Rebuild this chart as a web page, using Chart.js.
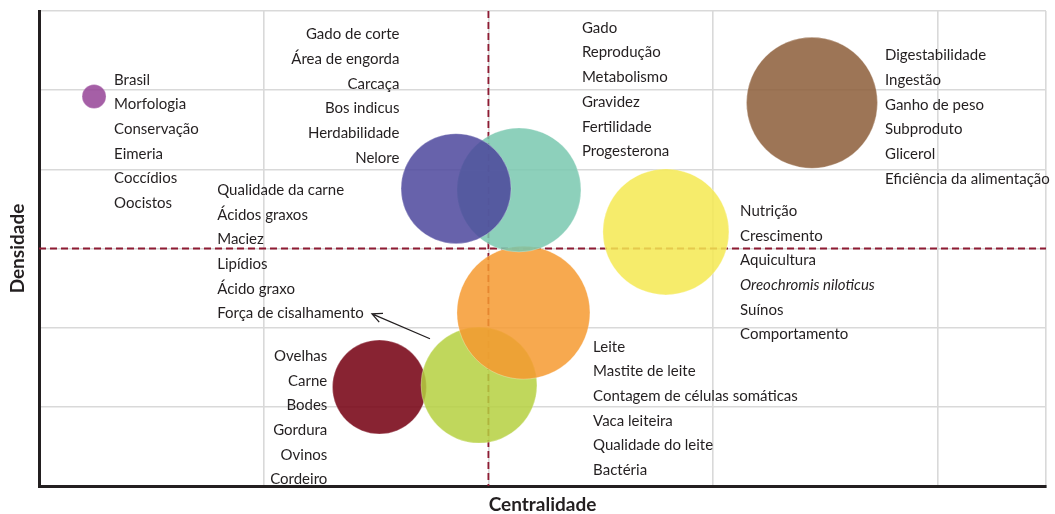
<!DOCTYPE html>
<html lang="pt-BR">
<head>
    <meta charset="UTF-8">
    <title>Mapa temático</title>
    <style>
        body {
            margin: 0;
            background: #ffffff;
        }
        #wrap {
            width: 1055px;
            height: 514px;
        }
    </style>
</head>
<body>
    <div id="wrap"><canvas id="myChart" width="1055" height="514"></canvas></div>

    <script src="https://cdn.jsdelivr.net/npm/chart.js"></script>
    <script>
        // Dados (um tema por bolha)
        const temas = ['Ovinos', 'Carne', 'Leite', 'Reprodução', 'Gado de corte', 'Nutrição', 'Digestabilidade', 'Brasil'];
        const centralidade = [1.515, 1.958, 2.156, 2.136, 1.856, 2.79, 3.44, 0.245];
        const densidade = [1.25, 1.275, 2.19, 3.74, 3.756, 3.21, 4.84, 4.92];
        const tamanho = [47, 58, 66.5, 62, 55, 63, 65.5, 12];
        const cores = [
            'rgba(120, 5, 22, 0.88)',
            'rgba(181, 208, 63, 0.85)',
            'rgba(246, 154, 48, 0.85)',
            'rgba(121, 200, 175, 0.85)',
            'rgba(76, 70, 156, 0.85)',
            'rgba(244, 233, 81, 0.85)',
            'rgba(140, 93, 56, 0.85)',
            'rgba(149, 67, 151, 0.85)'
        ];

        // Linhas de grade e linhas de corte (médias)
        const ticksX = [0, 1, 2, 3, 4, 4.4815];
        const ticksY = [0, 1, 2, 3, 4, 5, 6];
        const corteX = 2;
        const corteY = 3;

        // Palavras-chave de cada grupo
        const palavras = [
            ['Brasil', 'Morfologia', 'Conservação', 'Eimeria', 'Coccídios', 'Oocistos'],
            ['Gado de corte', 'Área de engorda', 'Carcaça', 'Bos indicus', 'Herdabilidade', 'Nelore'],
            ['Gado', 'Reprodução', 'Metabolismo', 'Gravidez', 'Fertilidade', 'Progesterona'],
            ['Digestabilidade', 'Ingestão', 'Ganho de peso', 'Subproduto', 'Glicerol', 'Eficiência da alimentação'],
            ['Qualidade da carne', 'Ácidos graxos', 'Maciez', 'Lipídios', 'Ácido graxo', 'Força de cisalhamento'],
            ['Nutrição', 'Crescimento', 'Aquicultura', 'Oreochromis niloticus', 'Suínos', 'Comportamento'],
            ['Ovelhas', 'Carne', 'Bodes', 'Gordura', 'Ovinos', 'Cordeiro'],
            ['Leite', 'Mastite de leite', 'Contagem de células somáticas', 'Vaca leiteira', 'Qualidade do leite', 'Bactéria']
        ];

        // Onde cada bloco de texto começa (em unidades dos eixos)
        const blocos = [
            { x: 0.334, y: 5.150, align: 'left' },
            { x: 1.604, y: 5.722, align: 'right' },
            { x: 2.416, y: 5.805, align: 'left' },
            { x: 3.765, y: 5.457, align: 'left' },
            { x: 0.793, y: 3.756, align: 'left' },
            { x: 3.120, y: 3.491, align: 'left' },
            { x: 1.283, y: 1.660, align: 'right' },
            { x: 2.466, y: 1.778, align: 'left' }
        ];
        const entreLinhas = 24.7;
        const seta = { de: [1.740, 1.860], para: [1.482, 2.174] };

        const corTexto = '#231f20';
        const fonte = 'Lato, "Noto Sans", sans-serif';

        // Desenha linhas tracejadas, textos e seta
        const anotacoes = {
            id: 'anotacoes',
            beforeDatasetsDraw(chart) {
                const { ctx, chartArea, scales } = chart;
                const px = scales.x.getPixelForValue(corteX);
                const py = scales.y.getPixelForValue(corteY);
                ctx.save();
                ctx.strokeStyle = '#8e1b33';
                ctx.lineWidth = 1.8;
                ctx.setLineDash([7, 4]);
                ctx.beginPath();
                ctx.moveTo(px, chartArea.top);
                ctx.lineTo(px, chartArea.bottom);
                ctx.moveTo(chartArea.left, py);
                ctx.lineTo(chartArea.right, py);
                ctx.stroke();
                ctx.restore();
            },
            afterDraw(chart) {
                const { ctx, scales } = chart;
                ctx.save();
                ctx.fillStyle = corTexto;
                ctx.textBaseline = 'middle';
                palavras.forEach((lista, i) => {
                    const b = blocos[i];
                    const x0 = scales.x.getPixelForValue(b.x);
                    const y0 = scales.y.getPixelForValue(b.y) + 1.5;
                    ctx.textAlign = b.align;
                    lista.forEach((t, j) => {
                        ctx.font = (t === 'Oreochromis niloticus' ? 'italic ' : '') + '15px ' + fonte;
                        ctx.fillText(t, x0, y0 + j * entreLinhas);
                    });
                });

                // seta apontando para "Força de cisalhamento"
                const x1 = scales.x.getPixelForValue(seta.de[0]);
                const y1 = scales.y.getPixelForValue(seta.de[1]);
                const x2 = scales.x.getPixelForValue(seta.para[0]);
                const y2 = scales.y.getPixelForValue(seta.para[1]);
                const ang = Math.atan2(y2 - y1, x2 - x1);
                ctx.strokeStyle = corTexto;
                ctx.lineWidth = 1.3;
                ctx.beginPath();
                ctx.moveTo(x1, y1);
                ctx.lineTo(x2, y2);
                ctx.moveTo(x2 + 11 * Math.cos(ang + Math.PI - 0.45), y2 + 11 * Math.sin(ang + Math.PI - 0.45));
                ctx.lineTo(x2, y2);
                ctx.lineTo(x2 + 11 * Math.cos(ang + Math.PI + 0.45), y2 + 11 * Math.sin(ang + Math.PI + 0.45));
                ctx.stroke();
                ctx.restore();
            }
        };

        const ctx = document.getElementById('myChart').getContext('2d');
        new Chart(ctx, {
            type: 'bubble',
            data: {
                labels: temas,
                datasets: [{
                    label: 'Temas',
                    data: temas.map((_, i) => ({ x: centralidade[i], y: densidade[i], r: tamanho[i] })),
                    backgroundColor: cores,
                    borderColor: 'rgba(255, 255, 255, 0.45)',
                    borderWidth: 0.6
                }]
            },
            options: {
                responsive: false,
                animation: false,
                clip: false,
                layout: { autoPadding: false, padding: { top: 11, right: 9, left: 0, bottom: 0 } },
                plugins: {
                    legend: { display: false },
                    tooltip: { enabled: false }
                },
                scales: {
                    x: {
                        min: 0,
                        max: 4.4815,
                        afterBuildTicks: s => { s.ticks = ticksX.map(v => ({ value: v })); },
                        afterFit: s => { s.height = 28; },
                        ticks: { display: false },
                        grid: { color: '#d9d9d9', lineWidth: 1.6, drawTicks: false },
                        border: { color: '#231f20', width: 3 },
                        title: {
                            display: true,
                            text: 'Centralidade',
                            color: corTexto,
                            font: { family: fonte, size: 19, weight: 'bold', lineHeight: 1 },
                            padding: 0
                        }
                    },
                    y: {
                        min: 0,
                        max: 6,
                        afterBuildTicks: s => { s.ticks = ticksY.map(v => ({ value: v })); },
                        afterFit: s => { s.width = 39; },
                        ticks: { display: false },
                        grid: { color: '#d9d9d9', lineWidth: 1.6, drawTicks: false },
                        border: { color: '#231f20', width: 3 },
                        title: {
                            display: true,
                            text: 'Densidade',
                            color: corTexto,
                            font: { family: fonte, size: 19, weight: 'bold', lineHeight: 1 },
                            padding: { top: 8.5, bottom: 0 }
                        }
                    }
                }
            },
            plugins: [anotacoes]
        });
    </script>
</body>
</html>
